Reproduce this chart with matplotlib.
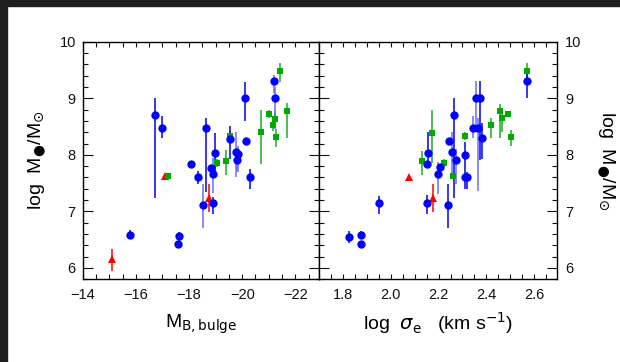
import matplotlib
matplotlib.use('Agg')
import matplotlib.pyplot as plt
from matplotlib.ticker import MultipleLocator
from matplotlib.patches import Rectangle

plt.rcParams['font.family'] = ['Liberation Sans', 'DejaVu Sans']
plt.rcParams['mathtext.fontset'] = 'dejavusans'

# ---- left panel: black hole mass vs bulge magnitude ----
mb_blue = [-15.78, -16.71, -16.98, -17.57, -17.62, -18.08, -18.33, -18.52, -18.62, -18.82, -18.89,
           -18.92, -18.96, -19.53, -19.75, -19.80, -19.86, -20.12, -20.15, -20.30, -21.19, -21.23]
mb_blue_m = [6.59, 8.71, 8.48, 6.43, 6.56, 7.84, 7.60, 7.12, 8.47, 7.76, 7.15,
             7.66, 8.04, 8.28, 8.05, 7.91, 8.01, 9.00, 8.24, 7.60, 9.30, 9.00]
mb_blue_up = [0.08, 0.30, 0.21, 0.03, 0.08, 0.06, 0.12, 0.36, 0.19, 0.05, 0.11,
              0.28, 0.35, 0.23, 0.35, 0.15, 0.15, 0.29, 0.06, 0.15, 0.11, 0.20]
mb_blue_lo = [0.08, 1.48, 0.19, 0.03, 0.08, 0.06, 0.12, 0.42, 1.12, 0.05, 0.19,
              0.34, 0.40, 0.36, 0.45, 0.20, 0.32, 0.40, 0.06, 0.21, 0.20, 0.55]

mb_green = [-17.22, -19.05, -19.40, -19.55, -20.71, -20.99, -21.17, -21.25, -21.26, -21.41, -21.70]
mb_green_m = [7.62, 7.85, 7.89, 8.33, 8.40, 8.73, 8.53, 8.64, 8.31, 9.48, 8.78]
mb_green_up = [0.03, 0.07, 0.20, 0.10, 0.39, 0.07, 0.10, 0.13, 0.14, 0.14, 0.14]
mb_green_lo = [0.03, 0.07, 0.25, 0.10, 0.56, 0.07, 0.10, 0.13, 0.17, 0.20, 0.49]

mb_red = [-15.10, -17.10, -18.76]
mb_red_m = [6.15, 7.62, 7.23]
mb_red_up = [0.18, 0.0, 0.26]
mb_red_lo = [0.20, 0.0, 0.24]

# ---- right panel: black hole mass vs velocity dispersion ----
sig_blue = [1.826, 1.875, 1.875, 1.951, 2.150, 2.150, 2.157, 2.196, 2.206, 2.238, 2.244, 2.255,
            2.263, 2.273, 2.309, 2.309, 2.318, 2.345, 2.356, 2.373, 2.366, 2.381, 2.569]
sig_blue_m = [6.55, 6.59, 6.42, 7.15, 7.15, 7.84, 8.04, 7.66, 7.78, 7.12, 8.24, 8.05,
              8.71, 7.91, 8.00, 7.60, 7.60, 8.48, 9.01, 9.01, 8.47, 8.29, 9.30]
sig_blue_up = [0.10, 0.07, 0.02, 0.12, 0.14, 0.05, 0.37, 0.22, 0.05, 0.36, 0.05, 0.35,
               0.30, 0.20, 0.22, 0.10, 0.10, 0.20, 0.30, 0.30, 0.19, 0.28, 0.20]
sig_blue_lo = [0.10, 0.07, 0.02, 0.20, 0.19, 0.05, 0.22, 0.36, 0.05, 0.41, 0.05, 0.40,
               1.48, 0.42, 0.31, 0.21, 0.21, 0.19, 0.57, 1.10, 1.11, 0.37, 0.30]

sig_green = [2.130, 2.174, 2.223, 2.262, 2.309, 2.421, 2.457, 2.467, 2.492, 2.503, 2.569]
sig_green_m = [7.89, 8.39, 7.85, 7.63, 8.33, 8.52, 8.78, 8.65, 8.73, 8.31, 9.48]
sig_green_up = [0.18, 0.40, 0.07, 0.04, 0.07, 0.13, 0.12, 0.08, 0.05, 0.13, 0.14]
sig_green_lo = [0.25, 0.54, 0.07, 0.04, 0.07, 0.22, 0.48, 0.24, 0.05, 0.16, 0.12]

sig_red = [2.076, 2.175]
sig_red_m = [7.61, 7.23]
sig_red_up = [0.0, 0.25]
sig_red_lo = [0.0, 0.24]

# points whose error bars are drawn paler in the original
pale_left = [7, 11, 14, 15, 16, 20, 21]
pale_right = [7, 11, 13, 17, 18, 20]


def points(ax, x, y, up, lo, color, ecolor, marker, ms, pale=(), pale_color=None):
    for i in range(len(x)):
        ec = pale_color if i in pale else ecolor
        if up[i] > 0 or lo[i] > 0:
            ax.errorbar([x[i]], [y[i]], yerr=[[lo[i]], [up[i]]], fmt='none',
                        ecolor=ec, elinewidth=1.1, capsize=0, zorder=2)
    ax.plot(x, y, linestyle='none', marker=marker, ms=ms, color=color,
            markeredgewidth=0, zorder=3)


fig = plt.figure(figsize=(6.2, 3.62), dpi=100)
ax1 = fig.add_axes([82.7 / 620, 82.7 / 362, 236.6 / 620, 237.6 / 362])
ax2 = fig.add_axes([319.3 / 620, 82.7 / 362, 237.4 / 620, 237.6 / 362])

points(ax1, mb_red, mb_red_m, mb_red_up, mb_red_lo, '#ff0000', '#ff0000', '^', 6)
points(ax1, mb_green, mb_green_m, mb_green_up, mb_green_lo, '#00aa00', '#22aa22', 's', 5)
points(ax1, mb_blue, mb_blue_m, mb_blue_up, mb_blue_lo, '#0000ff', '#0000ee', 'o', 6,
       pale=pale_left, pale_color='#6a6aff')

points(ax2, sig_red, sig_red_m, sig_red_up, sig_red_lo, '#ff0000', '#ff0000', '^', 6)
points(ax2, sig_green, sig_green_m, sig_green_up, sig_green_lo, '#00aa00', '#22aa22', 's', 5)
points(ax2, sig_blue, sig_blue_m, sig_blue_up, sig_blue_lo, '#0000ff', '#0000ee', 'o', 6,
       pale=pale_right, pale_color='#6a6aff')

ax1.set_xlim(-14, -22.9)
ax1.xaxis.set_major_locator(MultipleLocator(2))
ax1.xaxis.set_minor_locator(MultipleLocator(0.5))
ax2.set_xlim(1.70, 2.695)
ax2.xaxis.set_major_locator(MultipleLocator(0.2))
ax2.xaxis.set_minor_locator(MultipleLocator(0.05))

for ax in (ax1, ax2):
    ax.set_ylim(5.8, 10)
    ax.yaxis.set_major_locator(MultipleLocator(1))
    ax.yaxis.set_minor_locator(MultipleLocator(0.2))
    ax.tick_params(which='both', direction='in', top=True, bottom=True, left=True, right=True,
                   width=0.8, labelsize=10.5, colors='#111111')
    ax.tick_params(axis='y', which='major', length=7)
    ax.tick_params(axis='y', which='minor', length=3.6)
    ax.tick_params(axis='x', which='both', length=3.8, pad=6)
    for s in ax.spines.values():
        s.set_linewidth(1.0)

ax1.tick_params(axis='y', pad=5)
ax2.tick_params(axis='y', labelleft=False, labelright=True, pad=6)

mlabel = r'log  M$_{●}$/M$_{\odot}$'
ax1.set_ylabel(mlabel, fontsize=14, labelpad=8)
ax2.yaxis.set_label_position('right')
ax2.set_ylabel(mlabel, fontsize=14, rotation=270, va='bottom', labelpad=10)

ax1.set_xlabel(r'M$_{\rm B,bulge}$', fontsize=14, labelpad=8)
ax2.set_xlabel(r'log  $\sigma_{\rm e}$   (km s$^{-1}$)', fontsize=14, labelpad=6)

# dark frame along the top and left edges of the picture
fig.patches.append(Rectangle((0, 1 - 6 / 362), 1, 6 / 362, transform=fig.transFigure,
                             color='#1e1e1e', zorder=0))
fig.patches.append(Rectangle((0, 0), 7 / 620, 1, transform=fig.transFigure,
                             color='#1e1e1e', zorder=0))

fig.savefig('out.png', dpi=100)
